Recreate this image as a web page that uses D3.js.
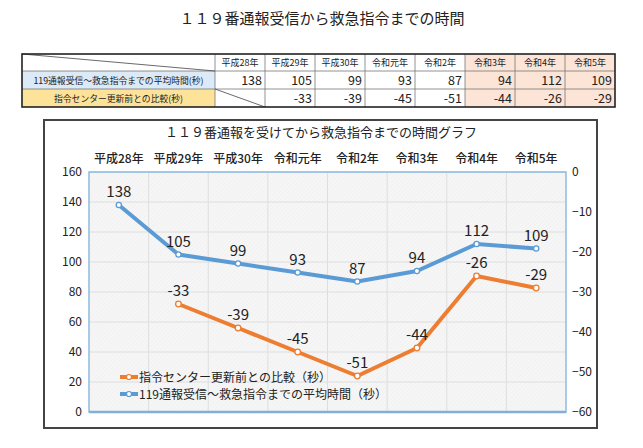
<!DOCTYPE html>
<html><head><meta charset="utf-8">
<script src="https://cdn.jsdelivr.net/npm/d3@7"></script>
<style>
body{margin:0;background:#fff;}
svg{display:block;font-family:"Noto Sans CJK JP","Noto Sans",sans-serif;}
</style></head>
<body>
<svg id="c" width="643" height="448"></svg>
<script>
const years = ["平成28年","平成29年","平成30年","令和元年","令和2年","令和3年","令和4年","令和5年"];
const avgTime = [138,105,99,93,87,94,112,109];
const diffPrev = [null,-33,-39,-45,-51,-44,-26,-29];
const leftTicks = [0,20,40,60,80,100,120,140,160];
const rightTicks = [0,-10,-20,-30,-40,-50,-60];
const rowLabels = ["119通報受信～救急指令までの平均時間(秒)","指令センター更新前との比較(秒)"];
const legendLabels = ["指令センター更新前との比較（秒）","119通報受信～救急指令までの平均時間（秒）"];
const mainTitle = "１１９番通報受信から救急指令までの時間";
const chartTitle = "１１９番通報を受けてから救急指令までの時間グラフ";

const svg = d3.select("#c");
const BLUE = "#5b9bd5", ORANGE = "#ed7d31";

// Main title
svg.append("text").attr("x",322).attr("y",24).attr("text-anchor","middle")
  .attr("font-size",15).attr("fill","#222").text(mainTitle);

// ---------- Table ----------
const tLeft = 22, tLabelR = 215, tRight = 615;
const rowsY = [54,71,89,107];
const colX = d3.scaleBand().domain(years).range([tLabelR,tRight]);
const tg = svg.append("g");
tg.append("rect").attr("x",tLeft).attr("y",rowsY[1]).attr("width",tLabelR-tLeft).attr("height",rowsY[2]-rowsY[1]).attr("fill","#dce9f6");
tg.append("rect").attr("x",tLeft).attr("y",rowsY[2]).attr("width",tLabelR-tLeft).attr("height",rowsY[3]-rowsY[2]).attr("fill","#fde29a");
tg.selectAll("rect.pink").data(years.slice(5)).join("rect").attr("class","pink")
  .attr("x",d=>colX(d)).attr("y",rowsY[0]).attr("width",colX.bandwidth()).attr("height",rowsY[3]-rowsY[0]).attr("fill","#fce4d6");
const lineC = "#777";
[rowsY[1],rowsY[2]].forEach(y=>tg.append("line").attr("x1",tLeft).attr("x2",tRight).attr("y1",y).attr("y2",y).attr("stroke",lineC).attr("stroke-width",0.8));
years.forEach(d=>tg.append("line").attr("x1",colX(d)).attr("x2",colX(d)).attr("y1",rowsY[0]).attr("y2",rowsY[3]).attr("stroke",lineC).attr("stroke-width",0.8));
tg.append("line").attr("x1",tLeft).attr("y1",rowsY[0]).attr("x2",tLabelR).attr("y2",rowsY[1]).attr("stroke","#444").attr("stroke-width",0.8);
tg.append("line").attr("x1",colX(years[0])).attr("y1",rowsY[2]).attr("x2",colX(years[0])+colX.bandwidth()).attr("y2",rowsY[3]).attr("stroke","#444").attr("stroke-width",0.8);
tg.append("rect").attr("x",tLeft).attr("y",rowsY[0]).attr("width",tRight-tLeft).attr("height",rowsY[3]-rowsY[0])
  .attr("fill","none").attr("stroke","#222").attr("stroke-width",1.6);
tg.selectAll("text.h").data(years).join("text").attr("class","h")
  .attr("x",d=>colX(d)+colX.bandwidth()/2).attr("y",rowsY[0]+12).attr("text-anchor","middle")
  .attr("font-size",9).attr("fill","#222").text(d=>d);
rowLabels.forEach((l,i)=>tg.append("text").attr("x",(tLeft+tLabelR)/2).attr("y",rowsY[i+1]+12.5)
  .attr("text-anchor","middle").attr("font-size",8.8).attr("fill","#222").text(l));
tg.selectAll("text.v1").data(avgTime).join("text").attr("class","v1")
  .attr("x",(d,i)=>colX(years[i])+colX.bandwidth()-3).attr("y",rowsY[1]+13.5).attr("text-anchor","end")
  .attr("font-size",12.5).attr("fill","#222").text(d=>d);
tg.selectAll("text.v2").data(diffPrev).join("text").attr("class","v2")
  .attr("x",(d,i)=>colX(years[i])+colX.bandwidth()-3).attr("y",rowsY[2]+13.5).attr("text-anchor","end")
  .attr("font-size",12.5).attr("fill","#222").text(d=>d===null?"":d);

// ---------- Chart ----------
svg.append("rect").attr("x",44).attr("y",120).attr("width",553).attr("height",308)
  .attr("fill","#fff").attr("stroke","#444").attr("stroke-width",2);
svg.append("text").attr("x",321).attr("y",137).attr("text-anchor","middle")
  .attr("font-size",13).attr("fill","#222").text(chartTitle);

const pL=89, pR=566, pT=172, pB=412;
const x = d3.scaleBand().domain(years).range([pL,pR]);
const xc = d=>x(d)+x.bandwidth()/2;
const yL = d3.scaleLinear().domain([0,160]).range([pB,pT]);
const yR = d3.scaleLinear().domain([-60,0]).range([pB,pT]);

const defs = svg.append("defs");
const pat = defs.append("pattern").attr("id","hatch").attr("width",3).attr("height",3)
  .attr("patternUnits","userSpaceOnUse").attr("patternTransform","rotate(45)");
pat.append("rect").attr("width",3).attr("height",3).attr("fill","#f6f6f6");
pat.append("line").attr("x1",0).attr("y1",0).attr("x2",0).attr("y2",3).attr("stroke","#ececec").attr("stroke-width",1);
svg.append("rect").attr("x",pL).attr("y",pT).attr("width",pR-pL).attr("height",pB-pT).attr("fill","url(#hatch)");

svg.append("g").selectAll("line").data(leftTicks).join("line")
  .attr("x1",pL).attr("x2",pR).attr("y1",d=>yL(d)).attr("y2",d=>yL(d)).attr("stroke","#dedede").attr("stroke-width",1);
svg.append("g").selectAll("line").data(years.slice(1)).join("line")
  .attr("x1",d=>x(d)).attr("x2",d=>x(d)).attr("y1",pT).attr("y2",pB).attr("stroke","#dedede").attr("stroke-width",1);

svg.append("rect").attr("x",pL).attr("y",pT).attr("width",pR-pL).attr("height",pB-pT)
  .attr("fill","none").attr("stroke","#8fbbe0").attr("stroke-width",1.5);
svg.append("line").attr("x1",pL).attr("x2",pR).attr("y1",pB).attr("y2",pB).attr("stroke","#7fb0da").attr("stroke-width",2.5);

const axL = svg.append("g").attr("transform",`translate(${pL},0)`)
  .call(d3.axisLeft(yL).tickValues(leftTicks).tickSize(0).tickPadding(7));
const axR = svg.append("g").attr("transform",`translate(${pR},0)`)
  .call(d3.axisRight(yR).tickValues(rightTicks).tickSize(0).tickPadding(6).tickFormat(d3.format("d")));
const axT = svg.append("g").attr("transform",`translate(0,${pT-6})`)
  .call(d3.axisTop(x).tickSize(0).tickPadding(3));
[axL,axR,axT].forEach(a=>{a.select(".domain").remove();
  a.selectAll("text").attr("font-size",12).attr("fill","#222").attr("font-family",'"Noto Sans CJK JP","Noto Sans",sans-serif');});
axT.selectAll("text").attr("font-weight",500);

const blueData = years.map((d,i)=>({k:d,v:avgTime[i]}));
const orangeData = years.map((d,i)=>({k:d,v:diffPrev[i]})).filter(d=>d.v!==null);
svg.append("path").datum(blueData).attr("fill","none").attr("stroke",BLUE).attr("stroke-width",4)
  .attr("stroke-linejoin","round").attr("d",d3.line().x(d=>xc(d.k)).y(d=>yL(d.v)));
svg.append("path").datum(orangeData).attr("fill","none").attr("stroke",ORANGE).attr("stroke-width",4)
  .attr("stroke-linejoin","round").attr("d",d3.line().x(d=>xc(d.k)).y(d=>yR(d.v)));
svg.append("g").selectAll("circle").data(blueData).join("circle")
  .attr("cx",d=>xc(d.k)).attr("cy",d=>yL(d.v)).attr("r",2.6).attr("fill","#fff").attr("stroke",BLUE).attr("stroke-width",1.3);
svg.append("g").selectAll("circle").data(orangeData).join("circle")
  .attr("cx",d=>xc(d.k)).attr("cy",d=>yR(d.v)).attr("r",2.8).attr("fill","#fff").attr("stroke",ORANGE).attr("stroke-width",1.3);

svg.append("g").selectAll("text").data(blueData).join("text")
  .attr("x",d=>xc(d.k)).attr("y",d=>yL(d.v)-8).attr("text-anchor","middle")
  .attr("font-size",15).attr("fill","#222").text(d=>d.v);
svg.append("g").selectAll("text").data(orangeData).join("text")
  .attr("x",d=>xc(d.k)).attr("y",d=>yR(d.v)-8).attr("text-anchor","middle")
  .attr("font-size",15).attr("fill","#222").text(d=>d.v);

const lg = svg.append("g");
[[ORANGE,legendLabels[0]],[BLUE,legendLabels[1]]].forEach((e,i)=>{
  const y = 377 + i*17;
  lg.append("line").attr("x1",120).attr("x2",138).attr("y1",y).attr("y2",y).attr("stroke",e[0]).attr("stroke-width",4);
  lg.append("circle").attr("cx",129).attr("cy",y).attr("r",2.5).attr("fill","#fff").attr("stroke",e[0]).attr("stroke-width",1.2);
  lg.append("text").attr("x",139).attr("y",y+4.5).attr("font-size",12).attr("fill","#222").text(e[1]);
});
</script>
</body></html>
